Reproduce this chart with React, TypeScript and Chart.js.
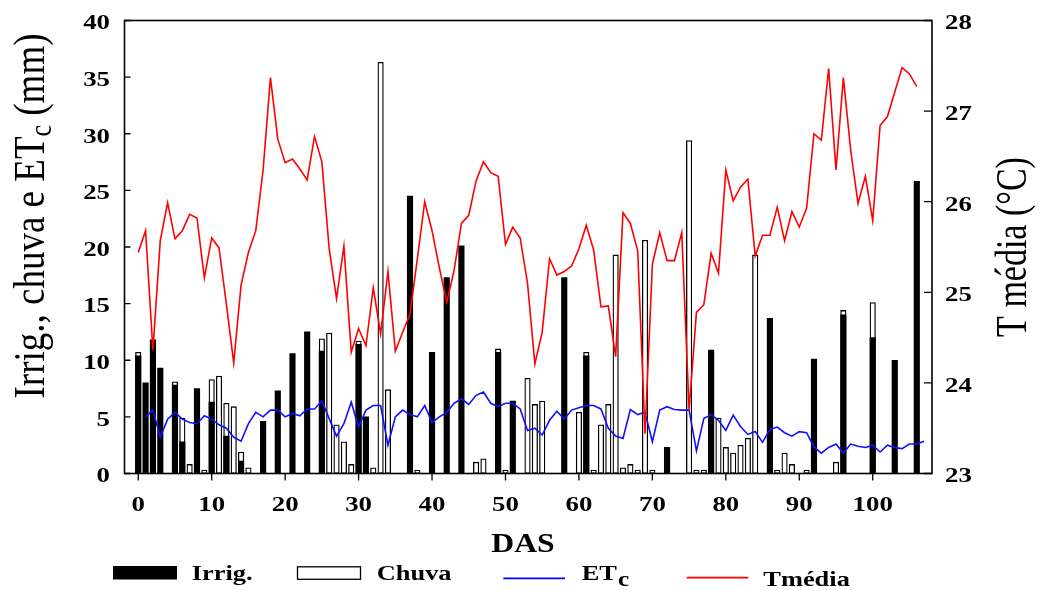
import React, { useEffect, useRef } from 'react';
import { Chart, registerables } from 'chart.js';

Chart.register(...registerables);

// Dias após semeadura (DAS)
const das = [
  0, 1, 2, 3, 4, 5, 6, 7, 8, 9,
  10, 11, 12, 13, 14, 15, 16, 17, 18, 19,
  20, 21, 22, 23, 24, 25, 26, 27, 28, 29,
  30, 31, 32, 33, 34, 35, 36, 37, 38, 39,
  40, 41, 42, 43, 44, 45, 46, 47, 48, 49,
  50, 51, 52, 53, 54, 55, 56, 57, 58, 59,
  60, 61, 62, 63, 64, 65, 66, 67, 68, 69,
  70, 71, 72, 73, 74, 75, 76, 77, 78, 79,
  80, 81, 82, 83, 84, 85, 86, 87, 88, 89,
  90, 91, 92, 93, 94, 95, 96, 97, 98, 99,
  100, 101, 102, 103, 104, 105, 106, 107,
];

// Irrigação (mm)
const irrig = [
  10.4, 8.0, 11.8, 9.3, null, 7.8, 2.8, null, 7.5, null,
  6.3, null, 3.3, null, 1.1, null, null, 4.6, null, 7.3,
  null, 10.6, null, 12.5, null, 10.8, null, null, null, null,
  11.4, 5.0, null, null, null, null, null, 24.5, null, null,
  10.7, null, 17.3, null, 20.1, null, null, null, null, 10.7,
  null, 6.4, null, null, null, null, null, null, 17.3, null,
  null, 10.4, null, null, null, null, null, null, null, null,
  null, null, 2.3, null, null, null, null, null, 10.9, null,
  null, null, null, null, null, null, 13.7, null, null, null,
  null, null, 10.1, null, null, null, 14.0, null, null, null,
  12.0, null, null, 10.0, null, null, 25.8, null,
];

// Chuva (mm)
const chuva = [
  10.7, null, null, null, null, 8.1, 4.9, 0.8, null, 0.3,
  8.3, 8.6, 6.2, 5.9, 1.9, 0.5, null, null, null, null,
  null, null, null, null, null, 11.9, 12.4, 4.3, 2.8, 0.8,
  11.7, null, 0.5, 36.3, 7.4, null, null, null, 0.3, null,
  null, null, null, null, null, null, 1.0, 1.3, null, 11.0,
  0.3, null, null, 8.4, 6.1, 6.4, null, null, null, null,
  5.4, 10.7, 0.3, 4.3, 6.1, 19.3, 0.5, 0.8, 0.3, 20.6,
  0.3, null, null, null, null, 29.4, 0.3, 0.3, null, 4.9,
  2.3, 1.8, 2.5, 3.1, 19.3, null, null, 0.3, 1.8, 0.8,
  null, 0.3, null, null, null, 1.0, 14.4, null, null, null,
  15.1, null, null, null, null, null, null, null,
];

// ETc (mm)
const etc = [
  null, 5.0, 5.6, 3.2, 4.8, 5.4, 4.8, 4.5, 4.4, 5.1,
  4.8, 4.3, 4.0, 3.2, 2.85, 4.4, 5.4, 5.0, 5.6, 5.6,
  5.0, 5.3, 5.1, 5.7, 5.7, 6.4, 4.85, 3.3, 4.4, 6.3,
  4.1, 5.6, 6.0, 6.0, 2.5, 5.0, 5.6, 5.2, 5.0, 6.0,
  4.5, 5.0, 5.4, 6.2, 6.6, 6.1, 6.9, 7.2, 6.2, 5.9,
  6.2, 6.2, 5.7, 3.8, 4.0, 3.4, 4.7, 5.5, 4.8, 5.6,
  5.8, 6.0, 6.0, 5.7, 4.0, 3.3, 3.1, 5.65, 5.2, 5.4,
  2.8, 5.6, 5.9, 5.65, 5.6, 5.6, 2.0, 4.85, 5.2, 4.7,
  3.8, 5.15, 4.15, 3.45, 3.7, 2.75, 3.9, 4.1, 3.6, 3.3,
  3.7, 3.6, 2.35, 1.8, 2.3, 2.6, 1.8, 2.6, 2.4, 2.3,
  2.5, 1.9, 2.5, 2.3, 2.2, 2.6, 2.6, 2.85,
];

// Temperatura média (°C)
const tmedia = [
  25.44, 25.68, 24.36, 25.57, 25.99, 25.59, 25.68, 25.86, 25.82, 25.16,
  25.60, 25.49, 24.87, 24.22, 25.08, 25.44, 25.68, 26.35, 27.37, 26.69,
  26.43, 26.47, 26.36, 26.24, 26.72, 26.44, 25.48, 24.93, 25.51, 24.34,
  24.60, 24.41, 25.05, 24.54, 25.23, 24.35, 24.56, 24.76, 25.37, 26.00,
  25.68, 25.27, 24.89, 25.24, 25.76, 25.85, 26.23, 26.44, 26.32, 26.28,
  25.53, 25.72, 25.60, 25.10, 24.21, 24.56, 25.37, 25.19, 25.23, 25.29,
  25.48, 25.74, 25.47, 24.84, 24.85, 24.29, 25.88, 25.76, 25.46, 23.44,
  25.31, 25.66, 25.35, 25.35, 25.66, 23.70, 24.78, 24.86, 25.43, 25.21,
  26.35, 26.01, 26.16, 26.25, 25.40, 25.63, 25.63, 25.94, 25.57, 25.89,
  25.72, 25.93, 26.75, 26.68, 27.47, 26.35, 27.37, 26.57, 25.98, 26.28,
  25.79, 26.84, 26.94, 27.21, 27.48, 27.41, 27.27, null,
];

const xTicks = [0, 10, 20, 30, 40, 50, 60, 70, 80, 90, 100];
const leftTicks = [0, 5, 10, 15, 20, 25, 30, 35, 40];
const rightTicks = [23, 24, 25, 26, 27, 28];

const SERIF = '"Liberation Serif", "Times New Roman", serif';

function pts(values: (number | null)[]) {
  return das.map((d, i) => ({ x: d, y: values[i] }));
}

function sText(ctx: CanvasRenderingContext2D, text: string, x: number, y: number, align: CanvasTextAlign, sx: number) {
  ctx.save();
  ctx.translate(x, y);
  ctx.scale(sx, 1);
  ctx.textAlign = align;
  ctx.textBaseline = 'alphabetic';
  ctx.fillText(text, 0, 0);
  ctx.restore();
}

const paperPlugin = {
  id: 'paper',
  afterDatasetsDraw(chart: any) {
    const { ctx, chartArea: a, scales } = chart;
    const sx = scales.x;
    const sy = scales.y;
    const sy2 = scales.y2;
    ctx.save();
    // frame
    ctx.strokeStyle = '#000';
    ctx.lineWidth = 1.6;
    ctx.strokeRect(a.left, a.top, a.right - a.left, a.bottom - a.top);
    // ticks
    ctx.lineWidth = 1.3;
    ctx.beginPath();
    for (const v of leftTicks) {
      const py = sy.getPixelForValue(v);
      ctx.moveTo(a.left, py);
      ctx.lineTo(a.left + 6, py);
    }
    for (const v of rightTicks) {
      const py = sy2.getPixelForValue(v);
      ctx.moveTo(a.right, py);
      ctx.lineTo(a.right - 8, py);
    }
    for (const v of xTicks) {
      const px = sx.getPixelForValue(v);
      ctx.moveTo(px, a.bottom);
      ctx.lineTo(px, a.bottom + 7);
    }
    ctx.stroke();

    // tick labels
    ctx.fillStyle = '#000';
    ctx.font = 'bold 22px ' + SERIF;
    const TS = 1.22;
    for (const v of leftTicks) {
      const py = sy.getPixelForValue(v);
      sText(ctx, String(v), a.left - 14.5, py + 8.8, 'right', TS);
    }
    for (const v of rightTicks) {
      const py = sy2.getPixelForValue(v);
      sText(ctx, String(v), a.right + 13, py + 8.8, 'left', TS);
    }
    for (const v of xTicks) {
      const px = sx.getPixelForValue(v);
      sText(ctx, String(v), px, a.bottom + 37.2, 'center', TS);
    }

    // x title
    ctx.font = 'bold 28px ' + SERIF;
    sText(ctx, 'DAS', 523, 551.7, 'center', 1.13);

    // left title (rotated) with subscript
    ctx.save();
    ctx.translate(33, 216);
    ctx.rotate(-Math.PI / 2);
    ctx.scale(1, 1.22);
    ctx.textBaseline = 'alphabetic';
    ctx.textAlign = 'left';
    const big = '37px ' + SERIF;
    const small = '26px ' + SERIF;
    const p1 = 'Irrig., chuva e ET';
    const p2 = 'c';
    const p3 = ' (mm)';
    ctx.font = big;
    const w1 = ctx.measureText(p1).width;
    const w3 = ctx.measureText(p3).width;
    ctx.font = small;
    const w2 = ctx.measureText(p2).width;
    let start = -(w1 + w2 + w3) / 2;
    ctx.font = big;
    ctx.fillText(p1, start, 9);
    ctx.font = small;
    ctx.fillText(p2, start + w1, 15);
    ctx.font = big;
    ctx.fillText(p3, start + w1 + w2, 9);
    ctx.restore();

    // right title (rotated)
    ctx.save();
    ctx.translate(1015, 247);
    ctx.rotate(-Math.PI / 2);
    ctx.scale(1, 1.28);
    ctx.textBaseline = 'alphabetic';
    ctx.textAlign = 'center';
    ctx.font = '34px ' + SERIF;
    ctx.fillText('T média (°C)', 0, 8.5);
    ctx.restore();

    // legend
    const LS = 1.2;
    ctx.font = 'bold 22px ' + SERIF;
    ctx.fillStyle = '#000';
    ctx.fillRect(113, 566, 64, 13.5);
    sText(ctx, 'Irrig.', 191.7, 579.5, 'left', LS);

    ctx.fillStyle = '#fff';
    ctx.fillRect(297.5, 566.8, 63, 12.5);
    ctx.strokeStyle = '#000';
    ctx.lineWidth = 1.3;
    ctx.strokeRect(297.5, 566.8, 63, 12.5);
    ctx.fillStyle = '#000';
    sText(ctx, 'Chuva', 376.7, 580, 'left', LS);

    ctx.strokeStyle = '#0000ff';
    ctx.lineWidth = 1.8;
    ctx.beginPath();
    ctx.moveTo(503.3, 578.3);
    ctx.lineTo(565, 578.3);
    ctx.stroke();
    ctx.fillStyle = '#000';
    ctx.font = 'bold 22px ' + SERIF;
    const wET = ctx.measureText('ET').width * LS;
    sText(ctx, 'ET', 581.7, 579.5, 'left', LS);
    ctx.font = 'bold 21px ' + SERIF;
    sText(ctx, 'c', 581.7 + wET + 1, 585.5, 'left', LS);

    ctx.strokeStyle = '#ff0000';
    ctx.lineWidth = 1.8;
    ctx.beginPath();
    ctx.moveTo(686.7, 577.7);
    ctx.lineTo(748.3, 577.7);
    ctx.stroke();
    ctx.fillStyle = '#000';
    ctx.font = 'bold 22px ' + SERIF;
    sText(ctx, 'Tmédia', 763.3, 585.5, 'left', LS);

    ctx.restore();
  },
};

export default function App() {
  const ref = useRef<HTMLCanvasElement>(null);

  useEffect(() => {
    const canvas = ref.current;
    if (!canvas) return;
    const chart = new Chart(canvas, {
      type: 'bar',
      data: {
        datasets: [
          {
            type: 'line',
            label: 'Tmédia',
            data: pts(tmedia),
            yAxisID: 'y2',
            xAxisID: 'x',
            borderColor: '#ff0000',
            borderWidth: 1.6,
            pointRadius: 0,
            tension: 0,
            fill: false,
            order: 0,
          } as any,
          {
            type: 'line',
            label: 'ETc',
            data: pts(etc),
            yAxisID: 'y',
            xAxisID: 'x',
            borderColor: '#1010ff',
            borderWidth: 1.6,
            pointRadius: 0,
            tension: 0,
            fill: false,
            order: 1,
          } as any,
          {
            type: 'bar',
            label: 'Irrig.',
            data: pts(irrig),
            yAxisID: 'y',
            xAxisID: 'x',
            backgroundColor: '#000000',
            borderWidth: 0,
            barThickness: 5.5,
            grouped: false,
            order: 2,
          } as any,
          {
            type: 'bar',
            label: 'Chuva',
            data: pts(chuva),
            yAxisID: 'y',
            xAxisID: 'x',
            backgroundColor: '#ffffff',
            borderColor: '#000000',
            borderWidth: 1.3,
            borderSkipped: false,
            barThickness: 5.5,
            grouped: false,
            order: 3,
          } as any,
        ],
      },
      options: {
        responsive: false,
        animation: false,
        events: [],
        layout: { padding: { left: 124.5, right: 117, top: 20.5, bottom: 116.5 } },
        plugins: {
          legend: { display: false },
          tooltip: { enabled: false },
          title: { display: false },
        },
        scales: {
          x: { type: 'linear', display: false, min: -1.87, max: 108.07, offset: false },
          y: { type: 'linear', display: false, min: 0, max: 40, position: 'left' },
          y2: { type: 'linear', display: false, min: 23, max: 28, position: 'right' },
        },
      } as any,
      plugins: [paperPlugin],
    });
    return () => chart.destroy();
  }, []);

  return (
    <div style={{ position: 'absolute', left: 0, top: 0, width: 1049, height: 590, background: '#ffffff' }}>
      <canvas ref={ref} width={1049} height={590} style={{ display: 'block' }} />
    </div>
  );
}
